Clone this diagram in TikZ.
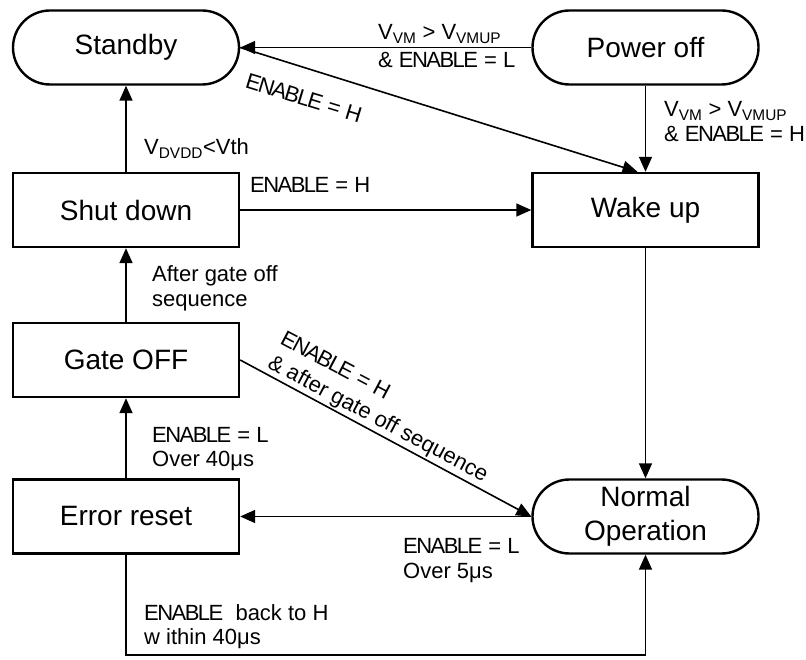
\documentclass[tikz,border=0pt]{standalone}
\usepackage{fontspec}
\setmainfont{Liberation Sans}
\usetikzlibrary{arrows.meta}
\newcommand{\EN}{{\addfontfeature{LetterSpace=-7}ENABLE}}
\begin{document}
\begin{tikzpicture}[x=1pt,y=-1pt,
  box/.style={draw, line width=2.4pt, minimum width=226pt, minimum height=74pt, inner sep=0pt,
    font=\fontsize{28}{34}\selectfont, align=center},
  stad/.style={box, rounded corners=37pt},
  arr/.style={line width=1.6pt, -{Triangle[length=15pt,width=13pt]}},
  lbl/.style={font=\fontsize{22}{25}\selectfont, inner sep=0pt, anchor=base west},
]
\useasboundingbox (0,0) rectangle (806,660);
% states
\node[stad] (S) at (126,47.5) {Standby};
\node[stad] (P) at (645.5,47.5) {Power off};
\node[box]  (D) at (126,210) {Shut down};
\node[box]  (W) at (645.5,210) {Wake up};
\node[box]  (G) at (126,360) {Gate OFF};
\node[box]  (E) at (126,516.5) {Error reset};
\node[stad] (N) at (645.5,516.5) {Normal\\Operation};
\coordinate (B) at (126,655);
% connectors
\draw[arr] (P.west) -- (S.east);
\draw[arr] (S.east) -- ([xshift=-8pt]W.north);
\draw[arr] (P.south) -- (W.north);
\draw[arr] (D.north) -- (S.south);
\draw[arr] (D.east) -- (W.west);
\draw[arr] (G.north) -- (D.south);
\draw[arr] (G.east) -- (N.west);
\draw[arr] (W.south) -- (N.north);
\draw[arr] (N.west) -- (E.east);
\draw[arr] (E.south) -- (B) -| (N.south);
\draw[arr] (E.north) -- (G.south);
% labels
\node[lbl] (l1a) at (378,40) {V\textsubscript{VM} > V\textsubscript{VMUP}};
\node[lbl] (l1b) at (378,68) {\& \EN{} = L};
\node[lbl, anchor=center, rotate=-17] (l2) at (304,98) {\EN{} = H};
\node[lbl] (l3a) at (664,117) {V\textsubscript{VM} > V\textsubscript{VMUP}};
\node[lbl] (l3b) at (664,142) {\& \EN{} = H};
\node[lbl] (l4) at (144,155) {V\textsubscript{DVDD}<Vth};
\node[lbl] (l5) at (250,193) {\EN{} = H};
\node[lbl] (l6a) at (152,282) {After gate off};
\node[lbl] (l6b) at (152,307) {sequence};
\node[lbl] (l7a) at (152,442) {\EN{} = L};
\node[lbl] (l7b) at (152,466) {Over 40μs};
\node[lbl, font=\fontsize{22}{27}\selectfont, align=left, anchor=south west, rotate=-27.9] (l8) at (264.2,371.3) {\EN{} = H\\\& after gate off sequence};
\node[lbl] (l9a) at (403,553) {\EN{} = L};
\node[lbl] (l9b) at (403,578) {Over 5μs};
\node[lbl] (l10a) at (144,620) {\EN{}\ \ back to H};
\node[lbl] (l10b) at (144,644) {w ithin 40μs};
\end{tikzpicture}
\end{document}
